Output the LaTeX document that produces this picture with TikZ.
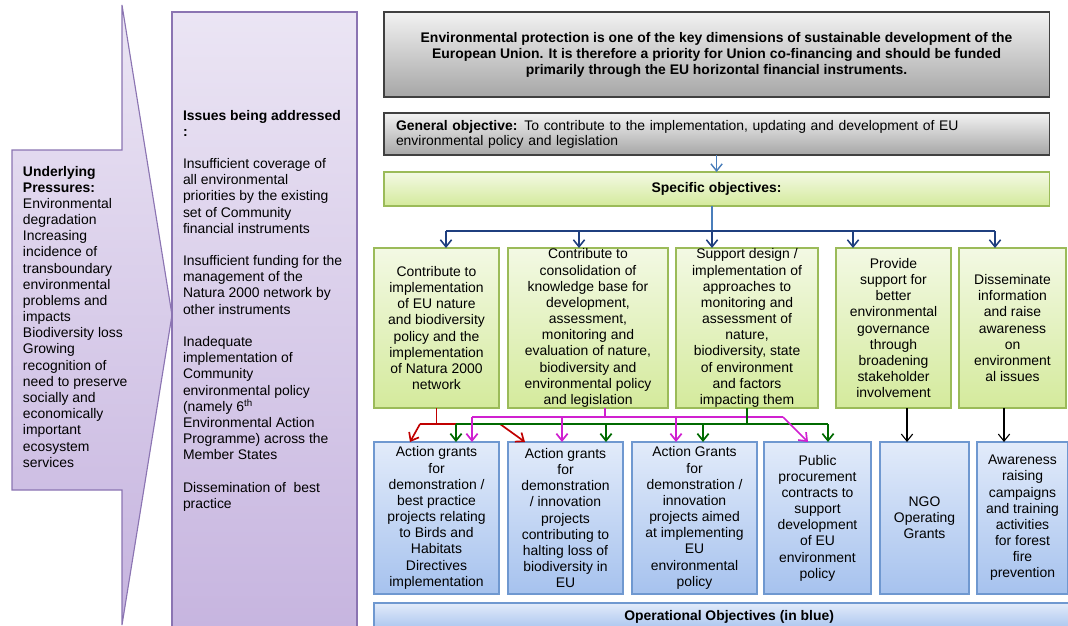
\documentclass[tikz,border=0pt]{standalone}
\usepackage{fontspec}
\setmainfont{Liberation Sans}
\usepackage{tikz}
\usetikzlibrary{arrows.meta}
\usetikzlibrary{shadings}

\definecolor{purpletop}{HTML}{EBE5F4}
\definecolor{purplebot}{HTML}{C6B4DF}
\definecolor{purpleline}{HTML}{8B74B2}
\definecolor{graytop}{HTML}{F2F2F2}
\definecolor{graybot}{HTML}{A6A6A6}
\definecolor{grayline}{HTML}{404040}
\definecolor{greentop}{HTML}{F3F9E4}
\definecolor{greenbot}{HTML}{D4EA9C}
\definecolor{greenline}{HTML}{9BBB59}
\definecolor{bluetop}{HTML}{E2EBFA}
\definecolor{bluebot}{HTML}{A6C2EE}
\definecolor{blueline}{HTML}{6F98D0}
\definecolor{navyline}{HTML}{1F3F7F}
\definecolor{lightblueline}{HTML}{4A7EBB}
\definecolor{redline}{HTML}{C00000}
\definecolor{darkgreenline}{HTML}{006A00}
\definecolor{magentaline}{HTML}{D020D0}

\begin{document}
\begin{tikzpicture}[x = 0.025cm, y = -0.025cm,
		>={Straight Barb[length=5pt, width=8pt]},
		every node/.style = {font = \fontsize{9.9}{11.5}\selectfont, inner sep = 0pt, outer sep = 0pt},
		boldtext/.style = {font = \fontsize{9.9}{11.4}\selectfont\bfseries},
		purplebox/.style = {draw = purpleline, line width = 0.8pt, top color = purpletop, bottom color = purplebot},
		graybox/.style = {draw = grayline, line width = 0.8pt, top color = graytop, bottom color = graybot, anchor = north west, minimum width = 16.625cm},
		sobox/.style = {draw = greenline, line width = 0.8pt, top color = greentop, bottom color = greenbot, anchor = north west, align = center, minimum height = 4cm},
		opbox/.style = {draw = blueline, line width = 0.8pt, top color = bluetop, bottom color = bluebot, anchor = north west, align = center, minimum height = 3.8cm},
		bluelink/.style = {draw = lightblueline, line width = 1pt},
		navylink/.style = {draw = navyline, line width = 1.1pt},
		redlink/.style = {draw = redline, line width = 1.2pt},
		greenlink/.style = {draw = darkgreenline, line width = 1.2pt},
		magentalink/.style = {draw = magentaline, line width = 1.2pt},
		blacklink/.style = {draw = black, line width = 0.8pt}]
			%\draw[help lines] (0,0) grid (1068,626);
			\useasboundingbox (0,0) rectangle (1068,626);
			\clip (0,0) rectangle (1068,626);
			
			\draw[purplebox] (12,150) -- (122,150) -- (122,5) -- (172,315) -- (122,625) -- (122,490) -- (12,490) -- cycle;
			\node[anchor = north west, align = left] (pressures) at (23,166) {\textbf{Underlying}\\\textbf{Pressures:}\\Environmental\\degradation\\Increasing\\incidence of\\transboundary\\environmental\\problems and\\impacts\\Biodiversity loss\\Growing\\recognition of\\need to preserve\\socially and\\economically\\important\\ecosystem\\services};
			
			\draw[purplebox] (172,12) rectangle (357,640);
			\node[anchor = north west, align = left] (issues) at (183,110) {\textbf{Issues being addressed}\\\textbf{:}\\[11.5pt]Insufficient coverage of\\all environmental\\priorities by the existing\\set of Community\\financial instruments\\[11.5pt]Insufficient funding for the\\management of the\\Natura 2000 network by\\other instruments\\[11.5pt]Inadequate\\implementation of\\Community\\environmental policy\\(namely 6\textsuperscript{th}\\Environmental Action\\Programme) across the\\Member States\\[11.5pt]Dissemination of ~best\\practice};
			
			\node[graybox, boldtext, align = center, minimum height = 2.125cm] (topbox) at (384,12) {Environmental protection is one of the key dimensions of sustainable development of the\\European Union. It is therefore a priority for Union co-financing and should be funded\\primarily through the EU horizontal financial instruments.};
			\node[graybox, align = left, text width = 16.025cm, inner xsep = 0.3cm, minimum height = 1.05cm, font = \fontsize{9.9}{10.7}\selectfont] (genobj) at (384,113) {\textbf{General objective:} To contribute to the implementation, updating and development of EU\\environmental policy and legislation};
			\node[sobox, boldtext, minimum width = 16.625cm, minimum height = 0.85cm] (specobj) at (384,172) {Specific objectives:};
			
			\node[sobox, minimum width = 3.125cm] (so1) at (374,248) {Contribute to\\implementation\\of EU nature\\and biodiversity\\policy and the\\implementation\\of Natura 2000\\network};
			\node[sobox, minimum width = 4cm] (so2) at (508,248) {Contribute to\\consolidation of\\knowledge base for\\development,\\assessment,\\monitoring and\\evaluation of nature,\\biodiversity and\\environmental policy\\and legislation};
			\node[sobox, minimum width = 3.55cm] (so3) at (676,248) {Support design /\\implementation of\\approaches to\\monitoring and\\assessment of\\nature,\\biodiversity, state\\of environment\\and factors\\impacting them};
			\node[sobox, minimum width = 2.875cm] (so4) at (836,248) {Provide\\support for\\better\\environmental\\governance\\through\\broadening\\stakeholder\\involvement};
			\node[sobox, minimum width = 2.675cm] (so5) at (959,248) {Disseminate\\information\\and raise\\awareness\\on\\environment\\al issues};
			
			\node[opbox, minimum width = 3.125cm] (op1) at (374,442) {Action grants\\for\\demonstration /\\best practice\\projects relating\\to Birds and\\Habitats\\Directives\\implementation};
			\node[opbox, minimum width = 2.875cm] (op2) at (508,442) {Action grants\\for\\demonstration\\/ innovation\\projects\\contributing to\\halting loss of\\biodiversity in\\EU};
			\node[opbox, minimum width = 3.125cm] (op3) at (632,442) {Action Grants\\for\\demonstration /\\innovation\\projects aimed\\at implementing\\EU\\environmental\\policy};
			\node[opbox, minimum width = 2.675cm] (op4) at (764,442) {Public\\procurement\\contracts to\\support\\development\\of EU\\environment\\policy};
			\node[opbox, minimum width = 2.225cm] (op5) at (880,442) {NGO\\Operating\\Grants};
			\node[opbox, minimum width = 2.275cm] (op6) at (977,442) {Awareness\\raising\\campaigns\\and training\\activities\\for forest\\fire\\prevention};
			\node[opbox, boldtext, minimum width = 17.75cm, minimum height = 0.7cm] (opbar) at (374,603) {Operational Objectives (in blue)};
			
			\draw[->, bluelink] (genobj) -- (specobj);
			
			\coordinate (t1) at (446,231);
			\coordinate (t2) at (579,231);
			\coordinate (t3) at (712,231);
			\coordinate (t4) at (853,231);
			\coordinate (t5) at (995,231);
			\draw[bluelink] (specobj.south -| t3) -- (t3);
			\draw[navylink] (t1) -- (t5);
			\foreach \t/\s in {t1/so1, t2/so2, t3/so3, t4/so4, t5/so5}
				\draw[->, navylink] (\t) -- (\s.north -| \t);
			
			\coordinate (r1) at (420,424);
			\coordinate (r2) at (500,424);
			\draw[redlink] (so1.south) -- (so1.south |- r1) (r1) -- (r2);
			\draw[->, redlink] (r1) -- (op1.north -| 410,0);
			\draw[->, redlink] (r2) -- (op2.north -| 525,0);
			
			\coordinate (g1) at (456,424);
			\coordinate (g2) at (606,424);
			\coordinate (g3) at (703,424);
			\coordinate (g4) at (828,424);
			\draw[greenlink] (g1) -- (g4);
			\foreach \g/\s in {g1/op1, g2/op2, g3/op3, g4/op4}
				\draw[->, greenlink] (\g) -- (\s.north -| \g);
			
			\coordinate (m0) at (605,417);
			\coordinate (m1) at (472,417);
			\coordinate (m2) at (562,417);
			\coordinate (m3) at (676,417);
			\coordinate (m4) at (783,417);
			\draw[magentalink] (so2.south -| m0) -- (m0) (m1) -- (m4);
			\foreach \m/\s in {m1/op1, m2/op2, m3/op3}
				\draw[->, magentalink] (\m) -- (\s.north -| \m);
			\draw[->, magentalink] (m4) -- (op4.north -| 808,0);
			
			\draw[greenlink] (so3.south) -- (so3.south |- g1);
			
			\draw[->, blacklink] (so4.south -| 907,0) -- (op5.north -| 907,0);
			\draw[->, blacklink] (so5.south -| 1004,0) -- (op6.north -| 1004,0);
		\end{tikzpicture}
\end{document}
